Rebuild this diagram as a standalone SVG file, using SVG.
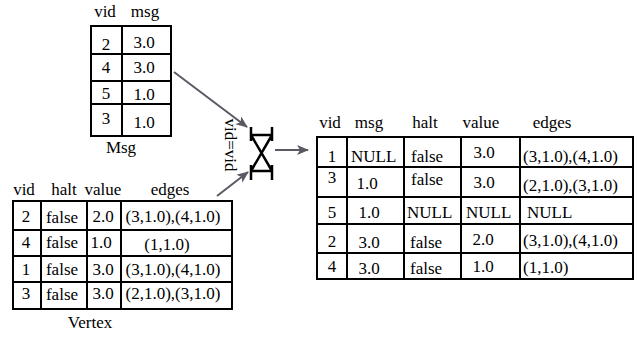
<svg xmlns="http://www.w3.org/2000/svg" width="637" height="337" viewBox="0 0 637 337" font-family="'Liberation Serif', 'DejaVu Serif', serif" font-size="17">
<defs>
<marker id="ah" markerWidth="12" markerHeight="10" refX="11" refY="5" orient="auto" markerUnits="userSpaceOnUse">
<path d="M0,0 L12,5 L0,10 L3,5 z" fill="#5a5a64"/>
</marker>
<style>
text{font-family:'Liberation Serif','DejaVu Serif',serif;font-size:17px;fill:#000}
.m{text-anchor:middle}
.tb{fill:none;stroke:#000;stroke-width:2}
.ln{stroke:#000;stroke-width:2;fill:none}
.cn{stroke:#5a5a64;stroke-width:2;fill:none}
.j{stroke:#000;stroke-width:2.5;fill:none}
</style>
</defs>
<rect width="637" height="337" fill="#fff"/>

<g id="msg">
<rect class="tb" x="91" y="26" width="80" height="110"/>
<path class="ln" d="M122,26V136M91,54H171M91,81H171M91,104H171"/>
<text class="m" x="105" y="17">vid</text>
<text class="m" x="145" y="17">msg</text>
<text class="m" x="106" y="50">2</text><text class="m" x="144" y="48">3.0</text>
<text class="m" x="106" y="73">4</text><text class="m" x="144" y="73">3.0</text>
<text class="m" x="106" y="99">5</text><text class="m" x="144" y="100">1.0</text>
<text class="m" x="106" y="124">3</text><text class="m" x="144" y="128">1.0</text>
<text class="m" x="121" y="153">Msg</text>
</g>

<g id="vertex">
<rect class="tb" x="13" y="201" width="219" height="108"/>
<path class="ln" d="M41,201V309M87,201V309M121,201V309M13,230H232M13,256H232M13,282H232"/>
<text class="m" x="24" y="195">vid</text>
<text class="m" x="64" y="195">halt</text>
<text class="m" x="103" y="195">value</text>
<text class="m" x="170" y="195">edges</text>
<text class="m" x="26" y="222">2</text><text class="m" x="62" y="223">false</text><text class="m" x="103" y="222">2.0</text><text class="m" x="173" y="222">(3,1.0),(4,1.0)</text>
<text class="m" x="26" y="248">4</text><text class="m" x="62" y="248">false</text><text class="m" x="101" y="248">1.0</text><text class="m" x="167" y="250">(1,1.0)</text>
<text class="m" x="26" y="275">1</text><text class="m" x="62" y="275">false</text><text class="m" x="103" y="275">3.0</text><text class="m" x="173" y="275">(3,1.0),(4,1.0)</text>
<text class="m" x="26" y="299">3</text><text class="m" x="62" y="300">false</text><text class="m" x="103" y="299">3.0</text><text class="m" x="173" y="299">(2,1.0),(3,1.0)</text>
<text class="m" x="90" y="328">Vertex</text>
</g>

<g id="join">
<path class="j" d="M251,127V141M272,127V141M251,135H272M251,165V180M272,165V180M251,171H272M251,135L272,171M272,135L251,171"/>
<text class="m" transform="translate(225,145) rotate(90)">vid=vid</text>
</g>

<g id="result">
<rect class="tb" x="317" y="137" width="316" height="142"/>
<path class="ln" d="M347,137V279M404,137V279M461,137V279M520,137V279M317,167H633M317,197H633M317,224H633M317,253H633"/>
<text class="m" x="330" y="128">vid</text>
<text class="m" x="369" y="128">msg</text>
<text class="m" x="425" y="128">halt</text>
<text class="m" x="481" y="128">value</text>
<text class="m" x="552" y="128">edges</text>
<text class="m" x="332" y="162">1</text><text x="351" y="162">NULL</text><text x="411" y="162">false</text><text class="m" x="484" y="158">3.0</text><text x="523" y="162">(3,1.0),(4,1.0)</text>
<text class="m" x="332" y="183">3</text><text class="m" x="367" y="189">1.0</text><text x="411" y="185">false</text><text class="m" x="484" y="188">3.0</text><text x="523" y="191">(2,1.0),(3,1.0)</text>
<text class="m" x="332" y="218">5</text><text class="m" x="369" y="218">1.0</text><text x="407" y="218">NULL</text><text x="466" y="218">NULL</text><text x="527" y="218">NULL</text>
<text class="m" x="332" y="247">2</text><text class="m" x="369" y="248">3.0</text><text x="410" y="248">false</text><text class="m" x="483" y="245">2.0</text><text x="523" y="246">(3,1.0),(4,1.0)</text>
<text class="m" x="332" y="272">4</text><text class="m" x="369" y="274">3.0</text><text x="410" y="274">false</text><text class="m" x="483" y="272">1.0</text><text x="523" y="273">(1,1.0)</text>
</g>

<g id="connectors">
<path class="cn" d="M174,72L247,127" marker-end="url(#ah)"/>
<path class="cn" d="M217,196L248,172" marker-end="url(#ah)"/>
<path class="cn" d="M275,150H308" marker-end="url(#ah)"/>
</g>
</svg>
